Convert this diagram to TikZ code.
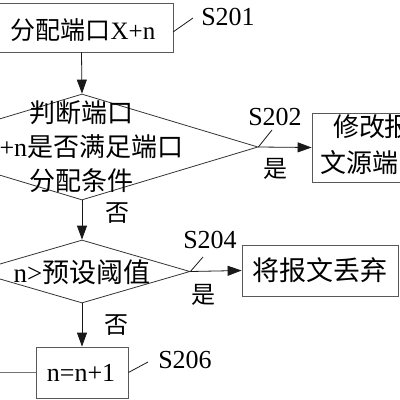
\documentclass[tikz,border=0pt]{standalone}
\usepackage{fontspec}
\setmainfont{Liberation Serif}
\newfontfamily\cjk{Noto Sans CJK SC}
\usetikzlibrary{shapes.geometric,arrows.meta}
\newcommand{\zh}[1]{{\cjk #1}}
\begin{document}
\begin{tikzpicture}[x=1pt,y=-1pt,
  box/.style={draw=black!65, line width=0.8pt, inner sep=0pt},
  diam/.style={diamond, draw=black!80, line width=0.8pt, inner sep=0pt},
  txt/.style={inner sep=0pt, align=center},
  lbl/.style={font=\fontsize{26}{30}\selectfont, inner sep=0pt},
  arr/.style={-{Triangle[length=14pt,width=10pt]}, draw=black!90, line width=0.8pt},
  lead/.style={draw=black!90, line width=0.8pt}]
\useasboundingbox (0,0) rectangle (400,400);
\clip (0,0) rectangle (400,400);
% boxes and diamonds
\node[box, minimum width=183pt, minimum height=49pt] (s201) at (81.5,27.5) {};
\node[txt, font=\fontsize{25}{30}\selectfont] (t201) at (83,30) {\zh{分配端口}X+n};
\node[diam, minimum width=352pt, minimum height=106pt] (d1) at (82,147) {};
\node[txt, font=\fontsize{26}{34}\selectfont] (t202) at (82,147) {\zh{判断端口}\\X+n\zh{是否满足端口}\\\zh{分配条件}};
\node[box, minimum width=120pt, minimum height=69pt] (mod) at (372,147.5) {};
\node[txt, font=\fontsize{26}{36}\selectfont] (tmod) at (372,145) {\zh{修改报}\\\zh{文源端口}};
\node[diam, minimum width=216pt, minimum height=63pt] (d2) at (82,271.5) {};
\node[txt, font=\fontsize{27}{30}\selectfont] (t204) at (82,272) {n>\zh{预设阈值}};
\node[box, minimum width=156pt, minimum height=51pt] (drop) at (320,270.5) {};
\node[txt, font=\fontsize{27}{30}\selectfont] (tdrop) at (320,270.5) {\zh{将报文丢弃}};
\node[box, minimum width=92pt, minimum height=51pt] (s206) at (82,372.5) {};
\node[txt, font=\fontsize{26}{30}\selectfont] (t206) at (81,373) {n=n+1};
\coordinate (lout) at (-20,372.5);
% connectors
\draw[arr] (s201.south) -- (d1.north);
\draw[arr] (d1.east) -- (mod.west);
\draw[arr] (d1.south) -- (d2.north);
\draw[arr] (d2.east) -- (drop.west);
\draw[arr] (d2.south) -- (s206.north);
\draw[draw=black!55, line width=0.8pt] (s206.west) -- (lout);
% step labels
\node[lbl] (l201) at (228,17) {S201};
\coordinate (c201) at (193,18);
\draw[lead] (173,32) -- (c201);
\node[lbl] (l202) at (275,117) {S202};
\coordinate (c202) at (272,130);
\draw[lead] (d1.east) -- (c202);
\node[lbl] (l204) at (210,240) {S204};
\coordinate (c204) at (203,257);
\draw[lead] (d2.east) -- (c204);
\node[lbl] (l206) at (185,360) {S206};
\coordinate (c206) at (148,362);
\draw[lead] (s206.east) -- (c206);
% yes/no
\node[txt, font=\fontsize{24}{28}\selectfont] (y1) at (275,169) {\zh{是}};
\node[txt, font=\fontsize{24}{28}\selectfont] (n1) at (117,213) {\zh{否}};
\node[txt, font=\fontsize{24}{28}\selectfont] (y2) at (203,295) {\zh{是}};
\node[txt, font=\fontsize{24}{28}\selectfont] (n2) at (116,325) {\zh{否}};
\end{tikzpicture}
\end{document}
